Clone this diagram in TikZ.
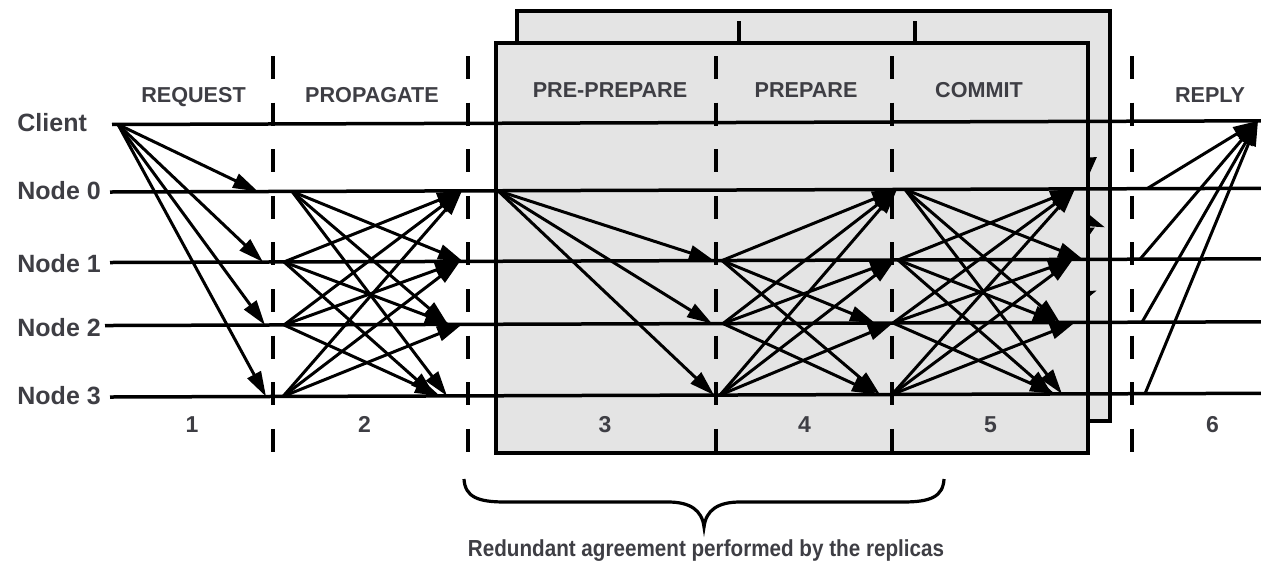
\documentclass[tikz,border=0pt]{standalone}
\usepackage{fontspec}
\setmainfont{Liberation Sans}
\usepackage{graphicx}
\usetikzlibrary{arrows.meta}
\definecolor{txt}{RGB}{62,62,68}
\definecolor{boxfill}{RGB}{228,228,228}
\newcommand\yl[1]{\ifcase#1 124.5\or 192\or 262.5\or 325.5\or 397\fi}
\newcommand\defpt[3]{\coordinate (#1) at ({#3},{\yl{#2}-0.0032*(#3-110)});}
\newcommand\msg[5]{%
  \coordinate (#1a) at ({#3},{\yl{#2}-0.0032*(#3-110)});
  \coordinate (#1b) at ({#5},{\yl{#4}-0.0032*(#5-110)});
  \draw[msgarrow] (#1a) -- (#1b);}
\tikzset{
  hline/.style={line width=1.75pt},
  msgarrow/.style={line width=1.5pt,-{Triangle[length=12.5pt,width=7.5pt]}},
  dashline/.style={line width=1.8pt,dash pattern=on 11.5pt off 11.8pt},
  boxstyle/.style={draw,line width=1.9pt,fill=boxfill},
  lbl/.style={font=\bfseries\fontsize{12.5}{14}\selectfont,text=txt,inner sep=0pt,anchor=base west},
  phase/.style={font=\bfseries\fontsize{10.8}{13}\selectfont,text=txt,inner sep=0pt,anchor=base},
  num/.style={font=\bfseries\fontsize{11.5}{13}\selectfont,text=txt,inner sep=0pt,anchor=base},
  captext/.style={font=\bfseries\fontsize{11.6}{14}\selectfont,text=txt,inner sep=0pt,anchor=base},
  bracestyle/.style={line width=1.6pt}
}
\begin{document}
\begin{tikzpicture}[x=0.5pt,y=-0.5pt]
\useasboundingbox (0,0) rectangle (1261,574);
% back replica box
\draw[boxstyle] (517,11) rectangle (1110,421);
\draw[line width=1.8pt] (739,21) -- (739,43);
\draw[line width=1.8pt] (915,21) -- (915,43);
\begin{scope}
\clip (517,11) rectangle (1110,421);
\begin{scope}[shift={(22,-32)}]
\msg{bk01}{1}{905}{2}{1083}
\msg{bk02}{1}{905}{3}{1060}
\msg{bk03}{1}{905}{4}{1062}
\msg{bk10}{2}{898}{1}{1075}
\msg{bk12}{2}{898}{3}{1058}
\msg{bk13}{2}{898}{4}{1052}
\msg{bk20}{3}{893}{1}{1075}
\msg{bk21}{3}{893}{2}{1073}
\msg{bk23}{3}{893}{4}{1055}
\msg{bk30}{4}{892}{1}{1075}
\msg{bk31}{4}{892}{2}{1073}
\msg{bk32}{4}{892}{3}{1075}
\end{scope}
\end{scope}
% front replica box
\draw[boxstyle] (496,43) rectangle (1088,453);
% phase separators
\foreach \n/\x in {d1/273,d2/468,d3/716,d4/892,d5/1132}{
  \coordinate (\n t) at (\x,56);
  \coordinate (\n b) at (\x,452);
  \draw[dashline] (\n t) -- (\n b);
}
% time lines
\defpt{cW}{0}{112}\defpt{cE}{0}{1261}
\defpt{n0W}{1}{110}\defpt{n0E}{1}{1261}
\defpt{n1W}{2}{110}\defpt{n1E}{2}{1261}
\defpt{n2W}{3}{105}\defpt{n2E}{3}{1261}
\defpt{n3W}{4}{110}\defpt{n3E}{4}{1261}
\draw[hline] (cW) -- (cE);
\draw[hline] (n0W) -- (n0E);
\draw[hline] (n1W) -- (n1E);
\draw[hline] (n2W) -- (n2E);
\draw[hline] (n3W) -- (n3E);
% 1 request
\msg{rq0}{0}{118}{1}{258}
\msg{rq1}{0}{118}{2}{263}
\msg{rq2}{0}{118}{3}{265}
\msg{rq3}{0}{118}{4}{266}
% 2 propagate
\msg{pp01}{1}{292}{2}{463}
\msg{pp02}{1}{292}{3}{448}
\msg{pp03}{1}{292}{4}{447}
\msg{pp10}{2}{284}{1}{462}
\msg{pp12}{2}{284}{3}{450}
\msg{pp13}{2}{284}{4}{435}
\msg{pp20}{3}{284}{1}{462}
\msg{pp21}{3}{284}{2}{460}
\msg{pp23}{3}{284}{4}{440}
\msg{pp30}{4}{283}{1}{462}
\msg{pp31}{4}{283}{2}{460}
\msg{pp32}{4}{283}{3}{462}
% 3 pre-prepare
\msg{pr1}{1}{498}{2}{714}
\msg{pr2}{1}{498}{3}{712}
\msg{pr3}{1}{498}{4}{714}
% 4 prepare
\msg{pa10}{2}{722}{1}{897}
\msg{pa12}{2}{722}{3}{875}
\msg{pa13}{2}{722}{4}{880}
\msg{pa20}{3}{723}{1}{897}
\msg{pa21}{3}{723}{2}{895}
\msg{pa23}{3}{723}{4}{877}
\msg{pa30}{4}{720}{1}{897}
\msg{pa31}{4}{720}{2}{895}
\msg{pa32}{4}{720}{3}{893}
% 5 commit
\msg{cm01}{1}{905}{2}{1083}
\msg{cm02}{1}{905}{3}{1060}
\msg{cm03}{1}{905}{4}{1062}
\msg{cm10}{2}{898}{1}{1075}
\msg{cm12}{2}{898}{3}{1058}
\msg{cm13}{2}{898}{4}{1052}
\msg{cm20}{3}{893}{1}{1075}
\msg{cm21}{3}{893}{2}{1073}
\msg{cm23}{3}{893}{4}{1055}
\msg{cm30}{4}{892}{1}{1075}
\msg{cm31}{4}{892}{2}{1073}
\msg{cm32}{4}{892}{3}{1075}
% 6 reply
\msg{ry0}{1}{1147}{0}{1258}
\msg{ry1}{2}{1140}{0}{1258}
\msg{ry2}{3}{1142}{0}{1258}
\msg{ry3}{4}{1145}{0}{1258}
% labels
\node[lbl] (lc) at (17,131.5) {Client};
\node[lbl] (l0) at (17,199) {Node 0};
\node[lbl] (l1) at (17,272.5) {Node 1};
\node[lbl] (l2) at (17,336) {Node 2};
\node[lbl] (l3) at (17,404) {Node 3};
\node[phase] (pRQ) at (193.5,102) {REQUEST};
\node[phase] (pPG) at (372,102) {PROPAGATE};
\node[phase] (pPP) at (610,97) {PRE-PREPARE};
\node[phase] (pPA) at (806,97) {PREPARE};
\node[phase] (pCM) at (979,97) {COMMIT};
\node[phase] (pRY) at (1210,102) {REPLY};
\node[num] (k1) at (192,432) {1};
\node[num] (k2) at (364.5,432) {2};
\node[num] (k3) at (605,432) {3};
\node[num] (k4) at (804.5,432) {4};
\node[num] (k5) at (990.5,432) {5};
\node[num] (k6) at (1212.5,432) {6};
% brace
\coordinate (brL) at (464,479);
\coordinate (brM) at (704,527);
\coordinate (brR) at (944,479);
\draw[bracestyle] (brL) .. controls (465,497) and (478,502) .. (505,502) -- (668,502)
  .. controls (690,502) and (702,510) .. (brM)
  .. controls (706,510) and (718,502) .. (740,502) -- (903,502)
  .. controls (930,502) and (943,497) .. (brR);
\node[captext] (caption) at (706,556.5) {\scalebox{0.89}[1]{Redundant agreement performed by the replicas}};
\end{tikzpicture}
\end{document}
